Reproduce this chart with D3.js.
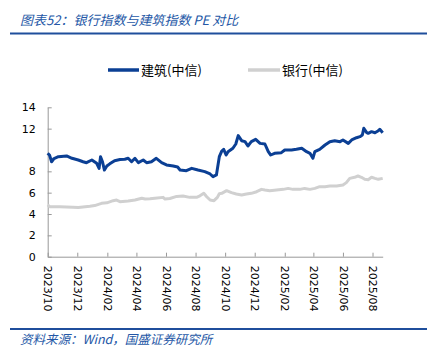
<!DOCTYPE html>
<html><head><meta charset="utf-8">
<script src="https://cdn.jsdelivr.net/npm/d3@7/dist/d3.min.js"></script>
<style>
html,body{margin:0;padding:0;background:#fff;}
svg{display:block;}
</style></head>
<body>
<svg id="c" width="432" height="355"></svg>
<script>
const title = "图表52：银行指数与建筑指数 PE 对比";
const source = "资料来源：Wind，国盛证券研究所";
const seriesNames = ["建筑(中信)", "银行(中信)"];
const yTicks = [0, 2, 4, 6, 8, 12, 14];
const xTickLabels = ["2023/10","2023/12","2024/02","2024/04","2024/06","2024/08","2024/10","2024/12","2025/02","2025/04","2025/06","2025/08"];

const jzDates = ["2023-10-01","2023-10-05","2023-10-09","2023-10-14","2023-10-23","2023-11-09","2023-11-20","2023-12-03","2023-12-13","2023-12-20","2023-12-31",
"2024-01-10","2024-01-15","2024-01-18","2024-01-22","2024-01-26","2024-01-31","2024-02-06","2024-02-16","2024-02-27","2024-03-08","2024-03-15","2024-03-22","2024-03-29",
"2024-04-05","2024-04-15","2024-04-22","2024-05-02","2024-05-12","2024-05-23","2024-06-02","2024-06-16","2024-06-25","2024-06-30","2024-07-13","2024-07-24",
"2024-08-06","2024-08-20","2024-08-31","2024-09-06","2024-09-13","2024-09-19","2024-09-24","2024-09-28","2024-10-03","2024-10-07","2024-10-17","2024-10-23","2024-10-28",
"2024-11-04","2024-11-11","2024-11-17","2024-11-24","2024-12-03","2024-12-12","2024-12-22","2024-12-29","2025-01-03","2025-01-11","2025-01-25","2025-02-01","2025-02-15","2025-02-25",
"2025-03-08","2025-03-18","2025-03-25","2025-03-31","2025-04-04","2025-04-14","2025-04-25","2025-05-05","2025-05-15","2025-05-26","2025-06-01","2025-06-12","2025-06-19","2025-06-29",
"2025-07-06","2025-07-11","2025-07-14","2025-07-20","2025-07-23","2025-07-30","2025-08-06","2025-08-13","2025-08-16","2025-08-22"];
const jzValues = [9.69,9.5,8.9,9.2,9.37,9.44,9.22,9.06,8.9,8.81,9.06,
8.75,8.28,9.37,8.9,8.12,8.5,8.7,9.0,9.1,9.13,9.22,8.9,9.22,
8.81,9.06,8.81,8.9,9.22,8.81,8.6,8.5,8.4,8.12,8.06,8.28,
8.12,7.97,7.75,7.5,7.66,9.37,9.9,10.06,9.53,9.84,10.16,10.56,11.35,
10.87,10.78,10.37,10.78,11.0,10.62,10.56,9.84,9.53,9.69,9.75,10.0,10.0,10.06,
10.16,9.84,9.69,9.22,9.84,10.06,10.47,10.78,10.87,10.78,10.94,10.62,10.94,11.15,
11.25,11.4,12.03,11.62,11.56,11.72,11.62,11.81,11.94,11.62];

const yhDates = ["2023-10-01","2023-10-05","2023-10-26","2023-11-22","2023-12-03","2023-12-27","2024-01-06","2024-01-20","2024-01-31","2024-02-13","2024-02-20","2024-02-27",
"2024-03-15","2024-03-29","2024-04-12","2024-04-19","2024-04-29","2024-05-09","2024-05-26","2024-05-30","2024-06-09","2024-06-23","2024-07-06","2024-07-20",
"2024-08-03","2024-08-10","2024-08-18","2024-08-24","2024-08-31","2024-09-08","2024-09-15","2024-09-19","2024-09-24","2024-10-04","2024-10-14","2024-10-24",
"2024-11-04","2024-11-14","2024-11-24","2024-12-05","2024-12-15","2024-12-22","2025-01-01","2025-01-15","2025-01-29","2025-02-08","2025-02-18","2025-03-04",
"2025-03-14","2025-03-25","2025-04-04","2025-04-14","2025-04-25","2025-05-05","2025-05-19","2025-06-01","2025-06-08","2025-06-15","2025-06-25","2025-07-02",
"2025-07-09","2025-07-16","2025-07-23","2025-07-30","2025-08-06","2025-08-13","2025-08-22"];
const yhValues = [4.85,4.69,4.69,4.63,4.6,4.72,4.79,5.0,5.05,5.25,5.31,5.16,
5.22,5.31,5.47,5.4,5.42,5.47,5.56,5.4,5.45,5.65,5.69,5.56,
5.56,5.7,5.94,5.62,5.31,5.25,5.56,5.9,5.94,6.19,6.0,5.87,
5.78,5.87,5.94,6.09,6.31,6.25,6.19,6.25,6.31,6.4,6.31,6.31,
6.4,6.31,6.4,6.56,6.56,6.62,6.62,6.72,6.94,7.34,7.44,7.56,
7.44,7.25,7.22,7.44,7.34,7.25,7.34];

const parse = d3.timeParse("%Y-%m-%d");
const parseTick = d3.timeParse("%Y/%m");
const fmtTick = d3.timeFormat("%Y/%m");
const jz = jzDates.map((d,i)=>({x:parse(d), y:jzValues[i]}));
const yh = yhDates.map((d,i)=>({x:parse(d), y:yhValues[i]}));

const svg = d3.select("#c");
const blueTitle = "#2457a6";
const lineBlue = "#0b3f94";
const lineGray = "#d0d0d0";
const axisColor = "#999";
const cjk = "'Noto Sans CJK SC', 'DejaVu Sans', sans-serif";
const num = "'DejaVu Sans', sans-serif";

// Title
svg.append("text").attr("x", 20).attr("y", 25)
  .attr("font-family", cjk).attr("font-size", 13).attr("font-style", "italic")
  .attr("fill", blueTitle).text(title);
svg.append("line").attr("x1", 10).attr("x2", 427).attr("y1", 33.5).attr("y2", 33.5)
  .attr("stroke", "#1f4e9c").attr("stroke-width", 2);

// Footer
svg.append("line").attr("x1", 10).attr("x2", 427).attr("y1", 329).attr("y2", 329)
  .attr("stroke", "#1f4e9c").attr("stroke-width", 2);
svg.append("text").attr("x", 20).attr("y", 344)
  .attr("font-family", cjk).attr("font-size", 12.5).attr("font-style", "italic")
  .attr("fill", blueTitle).text(source);

// Scales
const x = d3.scaleTime().domain([parse("2023-10-01"), parse("2025-08-22")]).range([47.7, 382.7]);
const y = d3.scaleLinear().domain([0, 14]).range([256.7, 107.3]);

// Axes
const gy = svg.append("g").attr("transform", "translate(47.7,0)")
  .call(d3.axisLeft(y).tickValues(yTicks).tickSizeInner(-4).tickSizeOuter(0).tickPadding(12));
gy.select(".domain").attr("stroke", axisColor);
gy.selectAll(".tick line").attr("stroke", axisColor);
gy.selectAll(".tick text").attr("font-family", num).attr("font-size", 11).attr("fill", "#000");

const gx = svg.append("g").attr("transform", "translate(0,256.7)")
  .call(d3.axisBottom(x).tickValues(xTickLabels.map(parseTick)).tickFormat(fmtTick)
    .tickSizeInner(-4).tickSizeOuter(0));
gx.select(".domain").attr("stroke", axisColor);
gx.selectAll(".tick line").attr("stroke", axisColor);
gx.selectAll(".tick text")
  .attr("font-family", num).attr("font-size", 11).attr("fill", "#000")
  .attr("text-anchor", "start")
  .attr("transform", "translate(0,9) rotate(90)")
  .attr("x", 0).attr("y", 0).attr("dy", "0.35em");

// Lines
const line = d3.line().x(d=>x(d.x)).y(d=>y(d.y));
svg.append("path").datum(yh).attr("d", line).attr("fill", "none")
  .attr("stroke", lineGray).attr("stroke-width", 3).attr("stroke-linejoin", "round");
svg.append("path").datum(jz).attr("d", line).attr("fill", "none")
  .attr("stroke", lineBlue).attr("stroke-width", 3).attr("stroke-linejoin", "round");

// Legend
const legend = [
  {name: seriesNames[0], color: lineBlue, x1: 108, x2: 139, tx: 141},
  {name: seriesNames[1], color: lineGray, x1: 248, x2: 280, tx: 282}
];
legend.forEach(l => {
  svg.append("line").attr("x1", l.x1).attr("x2", l.x2).attr("y1", 70).attr("y2", 70)
    .attr("stroke", l.color).attr("stroke-width", 3.5);
  svg.append("text").attr("x", l.tx).attr("y", 74.5)
    .attr("font-family", cjk).attr("font-size", 13).attr("fill", "#000")
    .text(l.name);
});
</script>
</body></html>
